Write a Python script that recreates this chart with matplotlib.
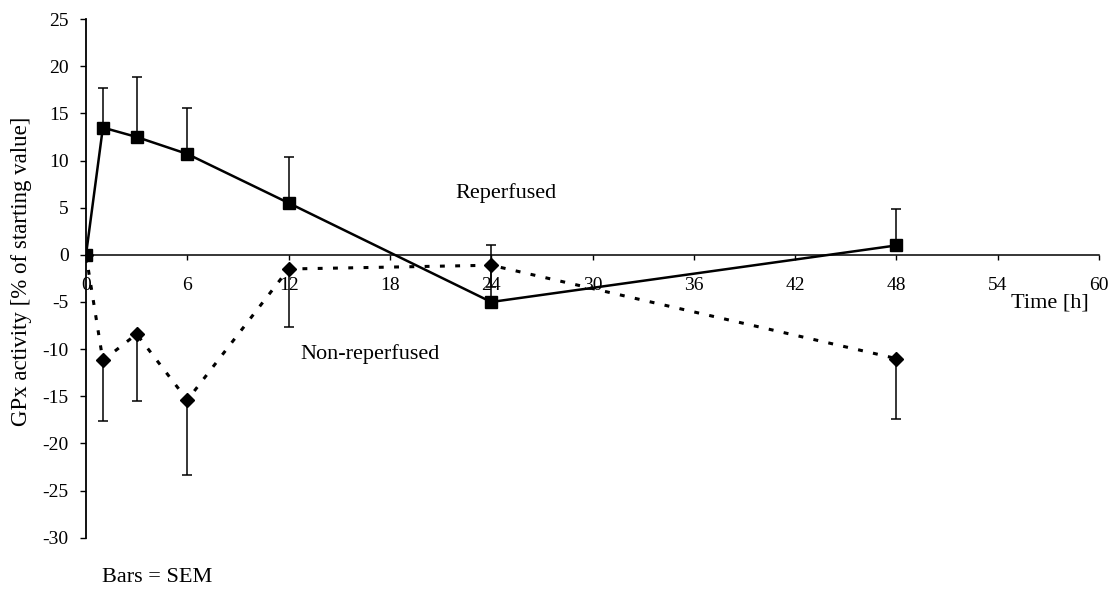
import matplotlib
matplotlib.use("Agg")
import numpy as np
import matplotlib.pyplot as plt

plt.rcParams['font.family'] = ['Liberation Serif', 'DejaVu Serif']
plt.rcParams['axes.unicode_minus'] = False

# time points [h]
hours = [0, 1, 3, 6, 12, 24, 48]

# Reperfused (squares), SEM drawn upwards
reperfused = [0, 13.5, 12.5, 10.7, 5.5, -5.0, 1.0]
reperfused_sem = [0, 4.2, 6.4, 4.9, 4.9, 6.0, 3.9]

# Non-reperfused (diamonds), SEM drawn downwards
nonreperfused = [0, -11.2, -8.4, -15.4, -1.5, -1.1, -11.0]
nonreperfused_sem = [0, 6.4, 7.1, 8.0, 6.1, 2.3, 6.4]

xticks = list(range(0, 61, 6))
yticks = list(range(-30, 26, 5))

fig = plt.figure(figsize=(11.12, 5.92), dpi=100)
ax = fig.add_axes([86 / 1112, 0.0917, 1013 / 1112, 0.876])

zeros = np.zeros(len(hours))

# error bars
ax.errorbar(hours, reperfused, yerr=[zeros, reperfused_sem], fmt='none',
            ecolor='black', elinewidth=1.1, capsize=3.8, capthick=1.1, zorder=2)
ax.errorbar(hours, nonreperfused, yerr=[nonreperfused_sem, zeros], fmt='none',
            ecolor='black', elinewidth=1.1, capsize=3.8, capthick=1.1, zorder=2)

# lines + markers
ax.plot(hours, reperfused, color='black', lw=1.8, marker='s', markersize=9,
        zorder=3)
ax.plot(hours, nonreperfused, color='black', lw=2.2, linestyle=(0, (1.6, 3.4)),
        marker='D', markersize=7.5, zorder=3)

ax.set_xlim(0, 60)
ax.set_ylim(-30, 25)

ax.spines['top'].set_visible(False)
ax.spines['right'].set_visible(False)
ax.spines['bottom'].set_position(('data', 0))
ax.spines['bottom'].set_linewidth(1.1)
ax.spines['left'].set_linewidth(1.3)

ax.set_xticks(xticks)
ax.set_yticks(yticks)
ax.tick_params(axis='x', direction='out', length=3.6, width=1.0, pad=12,
               labelsize=14)
ax.tick_params(axis='y', direction='out', length=4.5, width=1.0, pad=8,
               labelsize=14)

ax.text(59.4, -5.1, 'Time [h]', fontsize=16, ha='right', va='center')
ax.text(24.9, 6.6, 'Reperfused', fontsize=16, ha='center', va='center')
ax.text(12.7, -10.5, 'Non-reperfused', fontsize=16, ha='left', va='center')

fig.text(22 / 1112, 1 - 271 / 592, 'GPx activity [% of starting value]',
         fontsize=16.5, rotation=90, ha='center', va='center')
fig.text(157 / 1112, 1 - 578 / 592, 'Bars = SEM', fontsize=16,
         ha='center', va='center')

fig.savefig('out.png', dpi=100)
